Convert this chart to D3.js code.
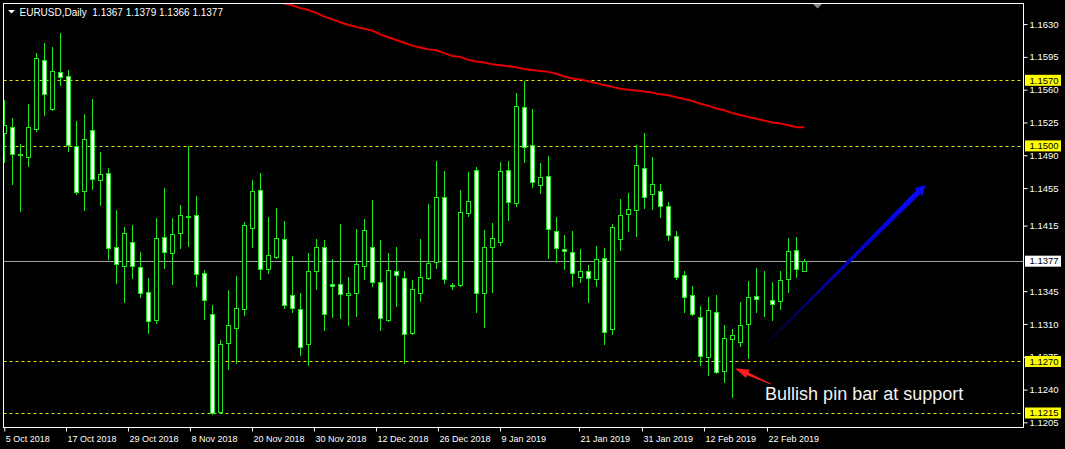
<!DOCTYPE html>
<html><head><meta charset="utf-8">
<script src="https://cdn.jsdelivr.net/npm/d3@7"></script>
<style>
html,body{margin:0;padding:0;background:#000;}
svg{display:block;}
</style></head><body>
<svg id="c" width="1065" height="449"></svg>
<script>
// ---------------- data ----------------
const symbolLabel = "EURUSD,Daily";
const lastBar = [1.1367, 1.1379, 1.1366, 1.1377];

const opens = [1.1514,1.1520,1.1491,1.1488,1.1518,1.1592,1.1539,1.1579,1.1575,1.1500,
1.1452,1.1517,1.1464,1.1471,1.1392,1.1372,1.1397,1.1371,1.1344,1.1314,
1.1403,1.1386,1.1407,1.1425,1.1426,1.1364,1.1321,1.1216,1.1290,1.1306,
1.1326,1.1412,1.1453,1.1369,1.1381,1.1401,1.1341,1.1326,1.1289,1.1366,
1.1392,1.1353,1.1353,1.1341,1.1343,1.1372,1.1392,1.1355,1.1314,1.1366,
1.1359,1.1300,1.1343,1.1359,1.1376,1.1445,1.1352,1.1352,1.1428,1.1474,
1.1343,1.1392,1.1397,1.1474,1.1439,1.1542,1.1501,1.1458,1.1468,1.1409,
1.1390,1.1387,1.1360,1.1367,1.1358,1.1380,1.1305,1.1401,1.1427,1.1432,
1.1476,1.1449,1.1452,1.1436,1.1404,1.1362,1.1341,1.1317,1.1275,1.1323,
1.1260,1.1294,1.1291,1.1310,1.1340,1.1335,1.1336,1.1335,1.1358,1.1389,
1.1367];
const highs = [1.1549,1.1530,1.1502,1.1545,1.1599,1.1610,1.1605,1.1620,1.1581,1.1527,
1.1534,1.1550,1.1494,1.1476,1.1432,1.1414,1.1416,1.1387,1.1359,1.1423,
1.1455,1.1423,1.1437,1.1500,1.1447,1.1368,1.1330,1.1293,1.1346,1.1361,
1.1419,1.1464,1.1471,1.1424,1.1434,1.1420,1.1383,1.1343,1.1386,1.1401,
1.1400,1.1379,1.1417,1.1360,1.1411,1.1422,1.1442,1.1400,1.1386,1.1392,
1.1366,1.1357,1.1401,1.1438,1.1484,1.1473,1.1354,1.1453,1.1472,1.1478,
1.1410,1.1418,1.1483,1.1484,1.1556,1.1569,1.1539,1.1482,1.1489,1.1424,
1.1405,1.1409,1.1390,1.1373,1.1393,1.1391,1.1417,1.1443,1.1450,1.1501,
1.1514,1.1488,1.1459,1.1440,1.1409,1.1366,1.1351,1.1329,1.1339,1.1341,
1.1309,1.1305,1.1333,1.1356,1.1370,1.1366,1.1355,1.1366,1.1402,1.1403,
1.1379];
const lows = [1.1483,1.1459,1.1431,1.1479,1.1516,1.1533,1.1538,1.1565,1.1495,1.1449,
1.1432,1.1454,1.1437,1.1379,1.1354,1.1333,1.1359,1.1339,1.1300,1.1311,
1.1370,1.1353,1.1391,1.1393,1.1350,1.1315,1.1214,1.1215,1.1262,1.1268,
1.1320,1.1392,1.1358,1.1364,1.1380,1.1327,1.1323,1.1277,1.1266,1.1347,
1.1304,1.1317,1.1316,1.1309,1.1319,1.1358,1.1350,1.1304,1.1313,1.1329,
1.1268,1.1299,1.1335,1.1358,1.1370,1.1354,1.1347,1.1351,1.1425,1.1323,
1.1307,1.1344,1.1394,1.1421,1.1436,1.1483,1.1456,1.1450,1.1380,1.1376,
1.1369,1.1351,1.1355,1.1333,1.1350,1.1289,1.1299,1.1389,1.1409,1.1404,
1.1434,1.1433,1.1424,1.1400,1.1358,1.1323,1.1320,1.1266,1.1256,1.1258,
1.1248,1.1232,1.1287,1.1274,1.1323,1.1319,1.1314,1.1326,1.1344,1.1360,
1.1366];
const closes = [1.1522,1.1491,1.1490,1.1520,1.1594,1.1555,1.1580,1.1573,1.1501,1.1451,
1.1507,1.1465,1.1470,1.1391,1.1374,1.1407,1.1372,1.1343,1.1313,1.1402,
1.1387,1.1406,1.1426,1.1424,1.1363,1.1336,1.1215,1.1289,1.1309,1.1327,
1.1416,1.1452,1.1369,1.1384,1.1402,1.1330,1.1327,1.1285,1.1366,1.1392,
1.1321,1.1350,1.1342,1.1343,1.1374,1.1410,1.1355,1.1316,1.1368,1.1362,
1.1299,1.1347,1.1360,1.1375,1.1445,1.1358,1.1351,1.1430,1.1441,1.1343,
1.1392,1.1402,1.1473,1.1440,1.1543,1.1499,1.1461,1.1467,1.1411,1.1391,
1.1388,1.1364,1.1366,1.1359,1.1379,1.1301,1.1414,1.1426,1.1433,1.1480,
1.1445,1.1459,1.1436,1.1405,1.1360,1.1339,1.1321,1.1276,1.1325,1.1259,
1.1295,1.1298,1.1309,1.1339,1.1337,1.1335,1.1331,1.1357,1.1388,1.1369,
1.1377];

// moving average (red) – only visible part, null where above the chart
const maValues = [null,null,null,null,null,null,null,null,null,null,
null,null,null,null,null,null,null,null,null,null,
null,null,null,null,null,null,null,null,null,null,
null,null,null,1.1657,1.1655,1.1652,1.1650,1.1647,1.1645,1.1642,
1.1638,1.1635,1.1632,1.1629,1.1627,1.1625,1.1623,1.1619,1.1616,1.1613,
1.1610,1.1607,1.1605,1.1603,1.1602,1.1599,1.1596,1.1595,1.1592,1.1590,
1.1589,1.1587,1.1586,1.1585,1.1584,1.1582,1.1581,1.1580,1.1579,1.1577,
1.1574,1.1572,1.1571,1.1569,1.1567,1.1565,1.1563,1.1561,1.1560,1.1559,
1.1558,1.1557,1.1555,1.1554,1.1552,1.1550,1.1548,1.1545,1.1543,1.1540,
1.1538,1.1535,1.1533,1.1531,1.1529,1.1527,1.1525,1.1524,1.1522,1.1520,
1.1520];

const priceTicks = [1.1630,1.1595,1.1560,1.1525,1.1490,1.1455,1.1415,1.1345,1.1310,1.1275,1.1240,1.1205];
const levelLines = [1.1570,1.1500,1.1270,1.1215];
const currentPrice = 1.1377;

const dateLabels = ["5 Oct 2018","17 Oct 2018","29 Oct 2018","8 Nov 2018","20 Nov 2018","30 Nov 2018",
  "12 Dec 2018","26 Dec 2018","9 Jan 2019","21 Jan 2019","31 Jan 2019","12 Feb 2019","22 Feb 2019"];
const dateBarPos = [0,7.71,15.46,23.2,30.96,38.7,46.46,54.2,61.96,71.84,79.7,87.46,95.34];

// annotations in data units [bar index, price]
const blueArrow = [[94.96,1.12865],[115.15,1.14583]];
const redArrow = [[95.8,1.12460],[91.34,1.12627]];
const noteText = "Bullish pin bar at support";
const notePos = [95.1,1.12290];

// ---------------- layout ----------------
const W = 1065, H = 449;
const frame = {l:3.5, t:3.5, r:1023.5, b:427.5};
const x = d3.scaleLinear().domain([0,100]).range([4.3,804.3]);
const y = d3.scaleLinear().domain([1.1215,1.1570]).range([413,80.3]);

const GREEN = "#22e622";
const svg = d3.select("#c");
svg.append("rect").attr("width",W).attr("height",H).attr("fill","#000");

const defs = svg.append("defs");
defs.append("clipPath").attr("id","plot").append("rect")
  .attr("x",frame.l).attr("y",frame.t).attr("width",frame.r-frame.l).attr("height",frame.b-frame.t);

const plot = svg.append("g").attr("clip-path","url(#plot)");

// level lines (dashed yellow)
plot.selectAll("line.lvl").data(levelLines).join("line").attr("class","lvl")
  .attr("x1",frame.l).attr("x2",frame.r)
  .attr("y1",d=>Math.round(y(d))+0.5).attr("y2",d=>Math.round(y(d))+0.5)
  .attr("stroke","#e8e800").attr("stroke-width",1).attr("stroke-dasharray","3,3");

// current price line
plot.append("line").attr("x1",frame.l).attr("x2",frame.r)
  .attr("y1",Math.round(y(currentPrice))+0.5).attr("y2",Math.round(y(currentPrice))+0.5)
  .attr("stroke","#a0a0a0").attr("stroke-width",1);

// MA line
const maLine = d3.line().defined(d=>d!=null).x((d,i)=>x(i)).y(d=>y(d));
plot.append("path").datum(maValues).attr("d",maLine)
  .attr("fill","none").attr("stroke","#e50000").attr("stroke-width",2);

// candles
const bars = opens.map((o,i)=>({i,o,h:highs[i],l:lows[i],c:closes[i]}));
const cg = plot.append("g");
const cx = d => Math.round(x(d.i)) + 0.5;
cg.selectAll("line.wick").data(bars).join("line").attr("class","wick")
  .attr("x1",cx).attr("x2",cx)
  .attr("y1",d=>Math.round(y(d.h))).attr("y2",d=>Math.round(y(d.l))+1)
  .attr("stroke",GREEN).attr("stroke-width",1);
cg.selectAll("rect.body").data(bars).join("rect").attr("class","body")
  .attr("x",d=>cx(d)-2)
  .attr("y",d=>Math.round(y(Math.max(d.o,d.c)))+0.5)
  .attr("width",4)
  .attr("height",d=>Math.max(0,Math.round(y(Math.min(d.o,d.c)))-Math.round(y(Math.max(d.o,d.c)))))
  .attr("fill",d=>d.c>=d.o?"#000":"#fff")
  .attr("stroke",GREEN).attr("stroke-width",1);

// tapered arrow helper
function arrow(g, p0, p1, w0, w1, headLen, headHalf, fill){
  const a=[x(p0[0]),y(p0[1])], b=[x(p1[0]),y(p1[1])];
  const dx=b[0]-a[0], dy=b[1]-a[1], L=Math.hypot(dx,dy);
  const u=[dx/L,dy/L], n=[-u[1],u[0]];
  const bb=[b[0]-u[0]*headLen, b[1]-u[1]*headLen];
  const pts=[
    [a[0]+n[0]*w0/2,a[1]+n[1]*w0/2],
    [bb[0]+n[0]*w1/2,bb[1]+n[1]*w1/2],
    [bb[0]+n[0]*headHalf,bb[1]+n[1]*headHalf],
    b,
    [bb[0]-n[0]*headHalf,bb[1]-n[1]*headHalf],
    [bb[0]-n[0]*w1/2,bb[1]-n[1]*w1/2],
    [a[0]-n[0]*w0/2,a[1]-n[1]*w0/2]];
  g.append("path").attr("d","M"+pts.map(p=>p.join(",")).join("L")+"Z").attr("fill",fill);
  return [a,b];
}
const bp = [[x(blueArrow[0][0]),y(blueArrow[0][1])],[x(blueArrow[1][0]),y(blueArrow[1][1])]];
const grad = defs.append("linearGradient").attr("id","bg").attr("gradientUnits","userSpaceOnUse")
  .attr("x1",bp[0][0]).attr("y1",bp[0][1]).attr("x2",bp[1][0]).attr("y2",bp[1][1]);
grad.append("stop").attr("offset",0).attr("stop-color","#000050");
grad.append("stop").attr("offset",0.45).attr("stop-color","#0000b0");
grad.append("stop").attr("offset",1).attr("stop-color","#0a0aff");
arrow(plot, blueArrow[0], blueArrow[1], 1, 5.5, 10, 5.5, "url(#bg)");
arrow(plot, redArrow[0], redArrow[1], 1, 3, 14, 4.5, "#ff1c1c");

plot.append("text").attr("x",x(notePos[0])).attr("y",y(notePos[1]))
  .attr("font-family","Liberation Sans, Arial, sans-serif").attr("font-size",18)
  .attr("fill","#f2f2f2").text(noteText);

// frame
svg.append("rect").attr("x",frame.l).attr("y",frame.t)
  .attr("width",frame.r-frame.l).attr("height",frame.b-frame.t)
  .attr("fill","none").attr("stroke","#ffffff").attr("stroke-width",1);

// shift marker
svg.append("path").attr("d","M813,4L822,4L817.5,8.5Z").attr("fill","#8a8a8a");

// right price axis
const FONT = "Liberation Sans, Arial, sans-serif";
const yAxis = d3.axisRight(y).tickValues(priceTicks).tickSize(4).tickPadding(2).tickFormat(d3.format(".4f"));
const ya = svg.append("g").attr("transform",`translate(${frame.r},0)`).call(yAxis);
ya.select(".domain").remove();
ya.selectAll("line").attr("stroke","#ffffff");
ya.selectAll("text").attr("fill","#ffffff").attr("font-family",FONT).attr("font-size",9.5);

// highlighted labels
const marks = levelLines.map(v=>({v,bg:"#ffff00"})).concat([{v:currentPrice,bg:"#ffffff"}]);
const mg = svg.append("g");
mg.selectAll("rect").data(marks).join("rect")
  .attr("x",1025).attr("y",d=>y(d.v)-5.5).attr("width",36).attr("height",11).attr("fill",d=>d.bg);
mg.selectAll("text").data(marks).join("text")
  .attr("x",1029.5).attr("y",d=>y(d.v)).attr("dy","0.34em")
  .attr("fill","#000").attr("font-family",FONT).attr("font-size",9.5)
  .text(d=>d3.format(".4f")(d.v));

// bottom date axis
const xAxis = d3.axisBottom(x).tickValues(dateBarPos).tickSize(4).tickPadding(4)
  .tickFormat((d,i)=>dateLabels[i]);
const xa = svg.append("g").attr("transform",`translate(0,${frame.b})`).call(xAxis);
xa.select(".domain").remove();
xa.selectAll("line").attr("stroke","#ffffff");
xa.selectAll("text").attr("fill","#ffffff").attr("font-family",FONT).attr("font-size",9)
  .attr("text-anchor","start").attr("x",1);

// header
svg.append("path").attr("d","M8,10L15,10L11.5,13.5Z").attr("fill","#ffffff");
svg.append("text").attr("x",19.5).attr("y",15.5).attr("fill","#ffffff")
  .attr("font-family",FONT).attr("font-size",10)
  .attr("xml:space","preserve")
  .text(symbolLabel + "  " + lastBar.map(d3.format(".4f")).join(" "));
</script>
</body></html>
